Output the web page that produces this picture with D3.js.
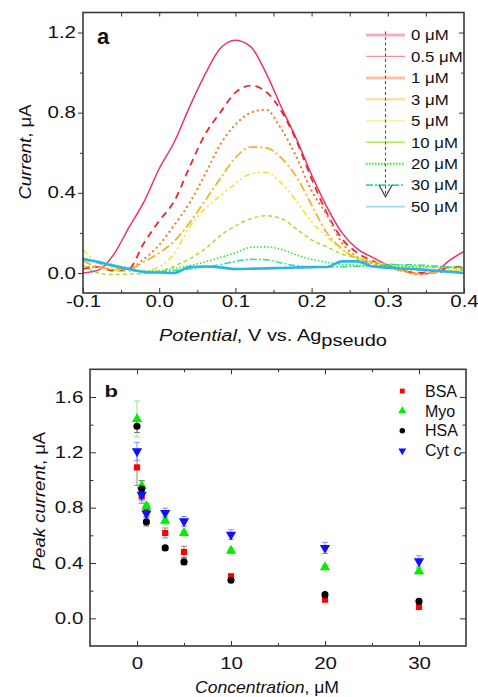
<!DOCTYPE html>
<html><head><meta charset="utf-8">
<script src="https://cdn.jsdelivr.net/npm/d3@7"></script>
<style>
html,body{margin:0;padding:0;background:#fff;}
svg{display:block;}
text{font-family:"Liberation Sans",Arial,sans-serif;fill:#111;}
</style>
</head><body>
<svg id="c" width="478" height="697"></svg>
<script>
// ---------- Panel a data ----------
const potential = [-0.1,-0.08,-0.06,-0.04,-0.02,0,0.02,0.04,0.06,0.08,0.1,0.12,0.14,0.16,0.18,0.2,0.22,0.24,0.26,0.28,0.3,0.32,0.34,0.36,0.38,0.4];
const cur0  = [0.0,0.014,0.09,0.225,0.355,0.52,0.655,0.83,0.99,1.12,1.162,1.13,1.0,0.83,0.67,0.49,0.33,0.2,0.12,0.078,0.04,0.015,-0.004,0.0,0.06,0.108];
const cur05 = [0.02,0.03,0.01,0.02,0.15,0.26,0.36,0.53,0.69,0.80,0.90,0.935,0.905,0.81,0.66,0.47,0.30,0.17,0.1,0.06,0.03,0.01,0.0,0.01,0.025,0.033];
const cur1  = [0.03,0.03,0.015,0.02,0.07,0.14,0.24,0.35,0.49,0.64,0.74,0.80,0.815,0.72,0.58,0.41,0.29,0.15,0.08,0.05,0.03,0.012,-0.008,0.0,0.008,0.016];
const cur3  = [0.06,0.03,0.02,0.02,0.055,0.1,0.16,0.25,0.36,0.47,0.575,0.628,0.625,0.575,0.48,0.34,0.2,0.12,0.07,0.042,0.025,0.01,-0.005,0.0,0.005,0.008];
const cur5  = [0.116,0.05,0.016,0.008,0.012,0.03,0.1,0.23,0.32,0.385,0.445,0.495,0.503,0.45,0.36,0.255,0.18,0.115,0.08,0.055,0.035,0.018,0.01,0.008,0.012,0.016];
const cur10 = [0.04,0.0,-0.008,-0.005,-0.003,0.005,0.035,0.07,0.12,0.185,0.235,0.27,0.286,0.272,0.22,0.165,0.13,0.095,0.074,0.055,0.046,0.038,0.033,0.029,0.024,0.02];
const cur20 = [0.075,0.058,0.041,0.025,0.01,0.012,0.022,0.037,0.055,0.078,0.1,0.128,0.13,0.118,0.09,0.068,0.053,0.043,0.038,0.034,0.032,0.031,0.03,0.03,0.03,0.03];
const cur30 = [0.066,0.05,0.033,0.018,0.005,0.005,0.012,0.02,0.03,0.042,0.058,0.068,0.066,0.05,0.036,0.03,0.03,0.031,0.033,0.036,0.04,0.041,0.04,0.035,0.03,0.025];
const cur50 = [0.07,0.055,0.036,0.02,0.005,0.002,0.0,0.03,0.032,0.028,0.02,0.021,0.023,0.025,0.027,0.029,0.03,0.058,0.058,0.032,0.026,0.022,0.018,0.012,0.006,0.0];
const labelsA = ["0 \u03bcM","0.5 \u03bcM","1 \u03bcM","3 \u03bcM","5 \u03bcM","10 \u03bcM","20 \u03bcM","30 \u03bcM","50 \u03bcM"];
const xTicksA = [-0.1,0,0.1,0.2,0.3,0.4];
const xTickLabelsA = ["-0.1","0.0","0.1","0.2","0.3","0.4"];
const yTicksA = [0,0.4,0.8,1.2];
const yTickLabelsA = ["0.0","0.4","0.8","1.2"];

// ---------- Panel b data ----------
const concentration = [0,0.5,1,3,5,10,20,30];
const bsa    = [1.091,0.882,0.798,0.617,0.48,0.304,0.135,0.082];
const bsaErr = [0.13,0.05,0.03,0.036,0.04,0.015,0.015,0.015];
const myo    = [1.441,0.959,0.81,0.706,0.617,0.489,0.369,0.34];
const myoErr = [0.13,0.035,0.03,0.03,0.02,0.02,0.015,0.02];
const hsa    = [1.388,0.935,0.697,0.509,0.408,0.275,0.171,0.123];
const hsaErr = [0.045,0.06,0.03,0.015,0.02,0.015,0.015,0.015];
const cyt    = [1.207,0.894,0.757,0.762,0.701,0.605,0.509,0.412];
const cytErr = [0.065,0.04,0.02,0.035,0.035,0.035,0.04,0.04];
const labelsB = ["BSA","Myo","HSA","Cyt c"];
const xTicksB = [0,10,20,30];
const xTickLabelsB = ["0","10","20","30"];
const yTicksB = [0,0.4,0.8,1.2,1.6];
const yTickLabelsB = ["0.0","0.4","0.8","1.2","1.6"];

// ---------- helpers ----------
const svg = d3.select("#c");
function widen(sel, s){
  sel.each(function(){
    const t = d3.select(this);
    const x = +t.attr("x")||0, y = +t.attr("y")||0;
    t.attr("x",null).attr("y",null).attr("transform",`translate(${x},${y}) scale(${s},1)`);
  });
}
function styleAxis(g){
  g.select(".domain").remove();
  g.selectAll(".tick line").attr("stroke","#333").attr("stroke-width",1);
  g.selectAll(".tick text").attr("font-size",16).attr("fill","#111")
    .attr("font-family","'Liberation Sans',Arial,sans-serif");
}
const TICK_SCALE = 1.28;

// ================= Panel a =================
const xA = d3.scaleLinear().domain([-0.1,0.4]).range([83,464]);
const yA = d3.scaleLinear().domain([-0.1,1.3]).range([293,12.5]);
const gA = svg.append("g");

const stylesA = [
  {c:"#e8336b", w:1.5, d:null},
  {c:"#e62a2a", w:1.8, d:"7,5"},
  {c:"#f07a30", w:2.2, d:"0.1,5", cap:"round"},
  {c:"#f0b430", w:1.8, d:"9,3,2,3"},
  {c:"#f0e424", w:1.5, d:"6,3,2,3,2,3"},
  {c:"#a6e02a", w:1.5, d:"4,3"},
  {c:"#2ee82e", w:1.6, d:"1.5,2"},
  {c:"#2edca0", w:1.5, d:"7,2,2,2"},
  {c:"#2ab4ea", w:2.6, d:null}
];
const legendStylesA = [
  {c:"#e8336b", w:3, o:0.4, d:null},
  {c:"#e62a2a", w:1.2, o:0.5, d:null},
  {c:"#f07a30", w:3, o:0.45, d:null},
  {c:"#f0b430", w:2.5, o:0.4, d:null},
  {c:"#f0e424", w:1.2, o:0.6, d:null},
  {c:"#a6e02a", w:1.5, o:0.8, d:null},
  {c:"#2ee82e", w:2, o:1, d:"1.5,1.5"},
  {c:"#2edca0", w:1.6, o:1, d:"7,2,2,2"},
  {c:"#2ab4ea", w:1.6, o:0.45, d:null}
];
const seriesA = [cur0,cur05,cur1,cur3,cur5,cur10,cur20,cur30,cur50];

// axes a
let ax;
ax = gA.append("g").attr("transform","translate(0,293)")
  .call(d3.axisBottom(xA).tickValues(xTicksA).tickFormat((d,i)=>xTickLabelsA[i]).tickSize(-5).tickPadding(3));
styleAxis(ax); widen(ax.selectAll(".tick text"), TICK_SCALE);
ax = gA.append("g").attr("transform","translate(0,293)")
  .call(d3.axisBottom(xA).tickValues([-0.05,0.05,0.15,0.25,0.35]).tickFormat("").tickSize(-3));
styleAxis(ax);
ax = gA.append("g").attr("transform","translate(0,12.5)")
  .call(d3.axisTop(xA).tickValues([-0.05,0,0.05,0.1,0.15,0.2,0.25,0.3,0.35]).tickFormat("").tickSize(-4));
styleAxis(ax);
ax = gA.append("g").attr("transform","translate(83,0)")
  .call(d3.axisLeft(yA).tickValues(yTicksA).tickFormat((d,i)=>yTickLabelsA[i]).tickSize(5).tickPadding(2));
styleAxis(ax); widen(ax.selectAll(".tick text"), TICK_SCALE);
ax = gA.append("g").attr("transform","translate(83,0)")
  .call(d3.axisLeft(yA).tickValues([0.2,0.6,1.0]).tickFormat("").tickSize(3));
styleAxis(ax);
ax = gA.append("g").attr("transform","translate(464,0)")
  .call(d3.axisRight(yA).tickValues(yTicksA).tickFormat("").tickSize(-5));
styleAxis(ax);
ax = gA.append("g").attr("transform","translate(464,0)")
  .call(d3.axisRight(yA).tickValues([0.2,0.6,1.0]).tickFormat("").tickSize(-3));
styleAxis(ax);

// curves
gA.append("clipPath").attr("id","clipA").append("rect")
  .attr("x",xA(-0.1)).attr("y",yA(1.3)).attr("width",xA(0.4)-xA(-0.1)).attr("height",yA(-0.1)-yA(1.3));
const lineA = d3.line().x((d,i)=>xA(potential[i])).y(d=>yA(d)).curve(d3.curveMonotoneX);
const curves = gA.append("g").attr("clip-path","url(#clipA)");
seriesA.forEach((s,k)=>{
  const st = stylesA[k];
  curves.append("path").datum(s).attr("d",lineA)
    .attr("fill","none").attr("stroke",st.c).attr("stroke-width",st.w)
    .attr("stroke-dasharray",st.d).attr("stroke-linecap",st.cap||"butt")
    .attr("stroke-linejoin","round");
});

// frame a
gA.append("rect").attr("x",xA(-0.1)).attr("y",yA(1.3)).attr("width",xA(0.4)-xA(-0.1)).attr("height",yA(-0.1)-yA(1.3))
  .attr("fill","none").attr("stroke","#3a3a3a").attr("stroke-width",1.6);

// legend a
const legA = gA.append("g");
labelsA.forEach((lab,k)=>{
  const cy = 35 + k*21.45;
  const st = legendStylesA[k];
  legA.append("line").attr("x1",366).attr("x2",405).attr("y1",cy).attr("y2",cy)
    .attr("stroke",st.c).attr("stroke-opacity",st.o).attr("stroke-width",st.w).attr("stroke-dasharray",st.d);
  const t = legA.append("text").attr("x",411).attr("y",cy+5.3).attr("font-size",15).text(lab);
  widen(t,1.12);
});
// arrow
const ax0 = xA(0.297);
legA.append("line").attr("x1",ax0).attr("x2",ax0).attr("y1",yA(1.205)).attr("y2",yA(0.38))
  .attr("stroke","#555").attr("stroke-width",1.1).attr("stroke-dasharray","3,2.5");
legA.append("path").attr("d",`M${ax0-6.7},${yA(0.38)-12} L${ax0},${yA(0.38)} L${ax0+6.7},${yA(0.38)-12}`)
  .attr("fill","none").attr("stroke","#333").attr("stroke-width",1.1);

// labels a
gA.append("text").attr("x",97).attr("y",43.5).attr("font-size",22).attr("font-weight","bold").text("a");
let tA = gA.append("text").attr("text-anchor","middle").attr("font-size",16);
tA.append("tspan").attr("font-style","italic").text("Potential");
tA.append("tspan").text(", V vs. Ag");
tA.append("tspan").attr("dy",5).text("pseudo");
tA.attr("transform",`translate(273,340.5) scale(1.25,1)`);
let tyA = gA.append("text").attr("text-anchor","middle").attr("font-size",16);
tyA.append("tspan").attr("font-style","italic").text("Current");
tyA.append("tspan").text(", \u03bcA");
tyA.attr("transform",`translate(31,152) rotate(-90) scale(1.16,1)`);

// ================= Panel b =================
const xB = d3.scaleLinear().domain([-5,35]).range([90,466]);
const yB = d3.scaleLinear().domain([-0.2,1.8]).range([646,369.3]);
const gB = svg.append("g");

ax = gB.append("g").attr("transform","translate(0,646)")
  .call(d3.axisBottom(xB).tickValues(xTicksB).tickFormat((d,i)=>xTickLabelsB[i]).tickSize(-5).tickPadding(11.5));
styleAxis(ax); widen(ax.selectAll(".tick text"), TICK_SCALE);
ax = gB.append("g").attr("transform","translate(0,646)")
  .call(d3.axisBottom(xB).tickValues([5,15,25]).tickFormat("").tickSize(-3));
styleAxis(ax);
ax = gB.append("g").attr("transform","translate(0,369.3)")
  .call(d3.axisTop(xB).tickValues([0,10,20,30]).tickFormat("").tickSize(-5));
styleAxis(ax);
ax = gB.append("g").attr("transform","translate(0,369.3)")
  .call(d3.axisTop(xB).tickValues([5,15,25]).tickFormat("").tickSize(-3));
styleAxis(ax);
ax = gB.append("g").attr("transform","translate(90,0)")
  .call(d3.axisLeft(yB).tickValues(yTicksB).tickFormat((d,i)=>yTickLabelsB[i]).tickSize(-6).tickPadding(6.7));
styleAxis(ax); widen(ax.selectAll(".tick text"), TICK_SCALE);
ax = gB.append("g").attr("transform","translate(90,0)")
  .call(d3.axisLeft(yB).tickValues([0.2,0.6,1.0,1.4]).tickFormat("").tickSize(-3.5));
styleAxis(ax);
ax = gB.append("g").attr("transform","translate(466,0)")
  .call(d3.axisRight(yB).tickValues(yTicksB).tickFormat("").tickSize(-6));
styleAxis(ax);
ax = gB.append("g").attr("transform","translate(466,0)")
  .call(d3.axisRight(yB).tickValues([0.2,0.6,1.0,1.4]).tickFormat("").tickSize(-3.5));
styleAxis(ax);

const seriesB = [
  {v:bsa, e:bsaErr, c:"#ff0000", ec:"#8a8a8a", sym:d3.symbolSquare, size:38, rot:0},
  {v:myo, e:myoErr, c:"#00ee00", ec:"#88ee88", sym:d3.symbolTriangle, size:46, rot:0},
  {v:hsa, e:hsaErr, c:"#000000", ec:"#777777", sym:d3.symbolCircle, size:40, rot:0},
  {v:cyt, e:cytErr, c:"#1010ff", ec:"#8c8cff", sym:d3.symbolTriangle, size:46, rot:180}
];
const eb = gB.append("g");
seriesB.forEach(s=>{
  concentration.forEach((c,i)=>{
    const x = xB(c), y1 = yB(s.v[i]-s.e[i]), y2 = yB(s.v[i]+s.e[i]);
    eb.append("line").attr("x1",x).attr("x2",x).attr("y1",y1).attr("y2",y2).attr("stroke",s.ec).attr("stroke-width",1);
    [y1,y2].forEach(yy=>eb.append("line").attr("x1",x-3).attr("x2",x+3).attr("y1",yy).attr("y2",yy).attr("stroke",s.ec).attr("stroke-width",1));
  });
});
const mk = gB.append("g");
seriesB.forEach(s=>{
  const sym = d3.symbol().type(s.sym).size(s.size);
  concentration.forEach((c,i)=>{
    mk.append("path").attr("d",sym()).attr("fill",s.c)
      .attr("transform",`translate(${xB(c)},${yB(s.v[i])}) rotate(${s.rot})`);
  });
});

gB.append("rect").attr("x",xB(-5)).attr("y",yB(1.8)).attr("width",xB(35)-xB(-5)).attr("height",yB(-0.2)-yB(1.8))
  .attr("fill","none").attr("stroke","#3a3a3a").attr("stroke-width",1.6);

// legend b
labelsB.forEach((lab,k)=>{
  const cy = 391 + k*19.9;
  const s = seriesB[k];
  const sym = d3.symbol().type(s.sym).size(s.size*0.6);
  gB.append("path").attr("d",sym()).attr("fill",s.c).attr("transform",`translate(402.3,${cy}) rotate(${s.rot})`);
  gB.append("text").attr("x",425).attr("y",cy+5.6).attr("font-size",16).text(lab);
});

// labels b
const tb = gB.append("text").attr("x",0).attr("y",0).attr("font-size",17).attr("font-weight","bold").text("b");
tb.attr("transform","translate(104.5,397) scale(1.3,1)");
let tB = gB.append("text").attr("text-anchor","middle").attr("font-size",16);
tB.append("tspan").attr("font-style","italic").text("Concentration");
tB.append("tspan").text(", \u03bcM");
tB.attr("transform",`translate(267,692.5) scale(1.1,1)`);
let tyB = gB.append("text").attr("text-anchor","middle").attr("font-size",16);
tyB.append("tspan").attr("font-style","italic").text("Peak current");
tyB.append("tspan").text(", \u03bcA");
tyB.attr("transform",`translate(45,501) rotate(-90) scale(1.16,1)`);
</script>
</body></html>
